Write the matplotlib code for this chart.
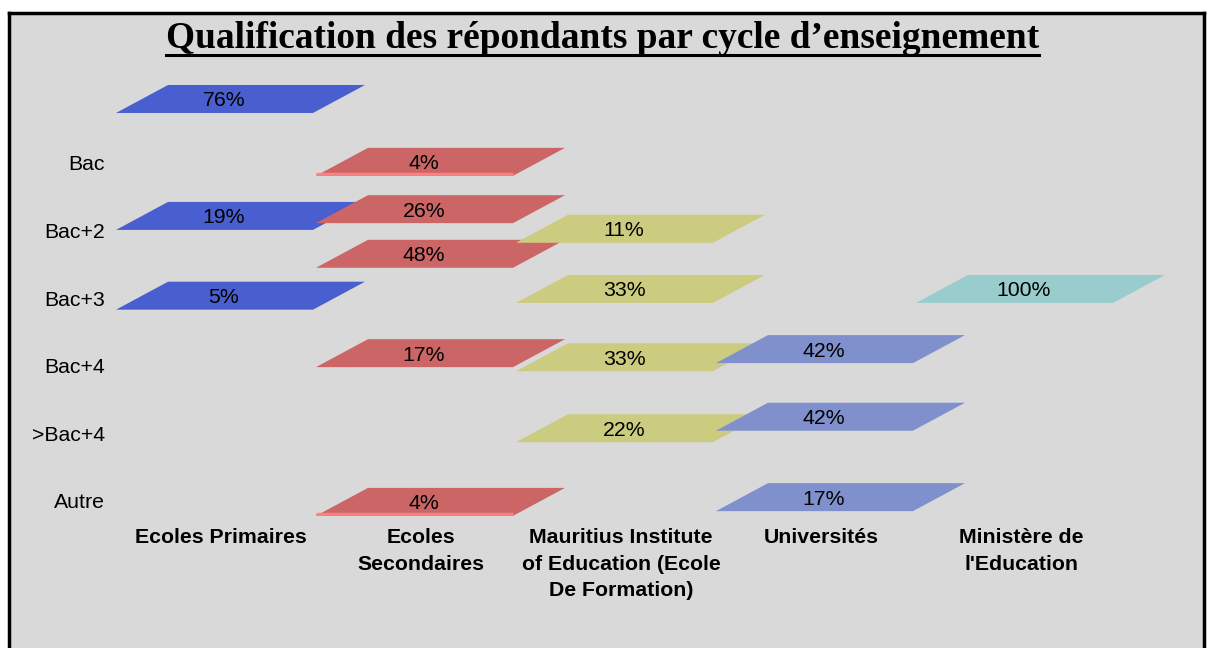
import matplotlib
matplotlib.use("Agg")
import matplotlib.pyplot as plt
from matplotlib.patches import Polygon
from matplotlib.lines import Line2D

# ---- data ----
title = "Qualification des répondants par cycle d’enseignement"
levels = ["Bac", "Bac+2", "Bac+3", "Bac+4", ">Bac+4", "Autre"]
cycles = ["Ecoles Primaires", "Ecoles\nSecondaires",
          "Mauritius Institute\nof Education (Ecole\nDe Formation)",
          "Universités", "Ministère de\nl'Education"]

primaires_val = [76, 19, 5]
primaires_pos = [0.26, 1.99, 3.17]
secondaires_val = [4, 26, 48, 17, 4]
secondaires_pos = [1.19, 1.89, 2.55, 4.02, 6.22]
mie_val = [11, 33, 33, 22]
mie_pos = [2.18, 3.07, 4.08, 5.13]
univ_val = [42, 42, 17]
univ_pos = [3.96, 4.96, 6.15]
ministere_val = [100]
ministere_pos = [3.07]

series_val = [primaires_val, secondaires_val, mie_val, univ_val, ministere_val]
series_pos = [primaires_pos, secondaires_pos, mie_pos, univ_pos, ministere_pos]
colors = ["#4a5fcf", "#cc6666", "#cccc80", "#8090cc", "#99cccc"]

# ---- drawing ----
W, H = 1207, 648
fig = plt.figure(figsize=(W / 100, H / 100), dpi=100)
fig.patch.set_facecolor("white")

# grey panel with black frame (top, left, right)
panel = fig.add_axes([9 / W, 0, (1204 - 9) / W, (H - 13) / H])
panel.set_facecolor("#d9d9d9")
panel.set_xticks([]); panel.set_yticks([])
panel.spines["bottom"].set_visible(False)
for s in ("top", "left", "right"):
    panel.spines[s].set_linewidth(2.5)

ax = fig.add_axes([0, 0, 1, 1])
ax.patch.set_alpha(0)
ax.axis("off")
# one x unit = one column slot, one y unit = one qualification row
ax.set_xlim(-116 / 200, (W - 116) / 200)
ax.set_ylim(1 + (H - 163) / 67.6, 1 - 163 / 67.6)

bw, slant, bh = 0.985, 0.26, 0.414
fs = 15.3

for i, (vals, pos) in enumerate(zip(series_val, series_pos)):
    for v, yb in zip(vals, pos):
        x0 = i
        verts = [(x0, yb), (x0 + bw, yb), (x0 + bw + slant, yb - bh), (x0 + slant, yb - bh)]
        ax.add_patch(Polygon(verts, closed=True, facecolor=colors[i], edgecolor="none"))
        if v < 5:
            ax.add_patch(Polygon([(x0, yb), (x0 + bw, yb), (x0 + bw + 0.003, yb - 0.045),
                                  (x0 + 0.003, yb - 0.045)], closed=True,
                                 facecolor="#ff8080", edgecolor="none"))
        ax.text(x0 + 0.54, yb - bh / 2, f"{v}%", ha="center", va="center_baseline",
                fontsize=fs, family="Liberation Sans", color="black")

for k, lab in enumerate(levels):
    ax.text(-0.055, k + 1, lab, ha="right", va="center_baseline", fontsize=fs,
            family="Liberation Sans")

for i, lab in enumerate(cycles):
    ax.text(i + 0.525, 6.40, lab, ha="center", va="top", fontsize=fs,
            fontweight="bold", family="Liberation Sans", linespacing=1.5)

t = fig.text(0.5 * (165 + 1040) / W, 1 - 38 / H, title, ha="center", va="center",
             fontsize=28, fontweight="bold", family="Liberation Serif")
fig.canvas.draw()
bb = t.get_window_extent()
t.set_fontsize(28 * 875 / bb.width)
fig.canvas.draw()
bb = t.get_window_extent()
fig.add_artist(Line2D([bb.x0 / W, bb.x1 / W], [1 - 55 / H, 1 - 55 / H],
                      color="black", linewidth=2.2, transform=fig.transFigure))

fig.savefig("out.png", dpi=100)
